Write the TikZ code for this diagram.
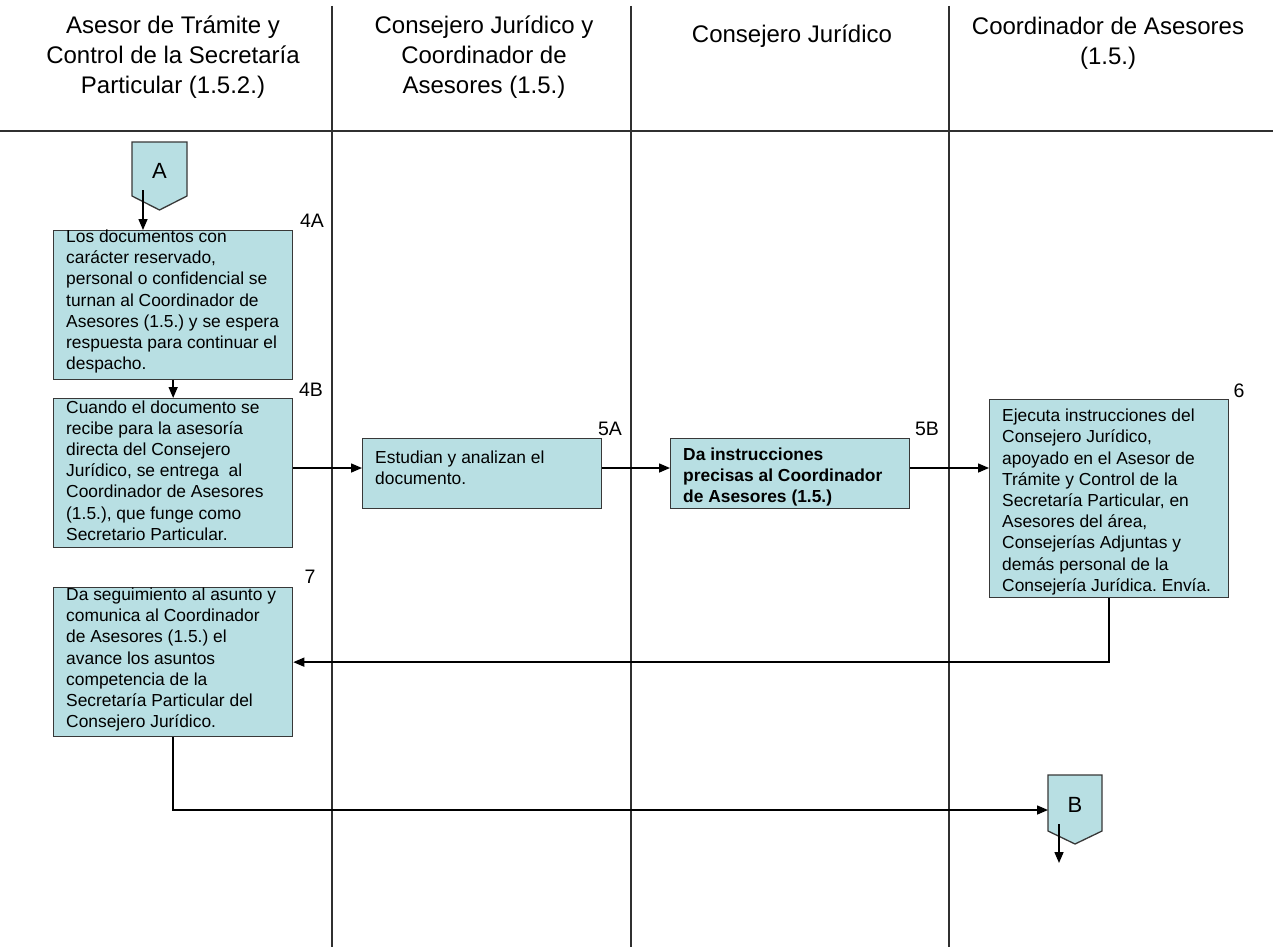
\documentclass[tikz,border=0pt]{standalone}
\usepackage{fontspec}
\setmainfont{Liberation Sans}
\usetikzlibrary{arrows.meta,calc}
\frenchspacing

\definecolor{boxfill}{HTML}{B8DFE3}
\definecolor{boxline}{HTML}{383838}
\definecolor{laneline}{HTML}{303030}

\begin{document}
\begin{tikzpicture}[x=1pt,y=-1pt,
  lane/.style={draw=laneline,line width=1.3pt},
  stepbox/.style={draw=boxline,fill=boxfill,line width=1.3pt,inner sep=0pt,anchor=north west,minimum width=239pt},
  body/.style={inner sep=0pt,anchor=west,align=left,font=\fontsize{17.4}{21.2}\selectfont\frenchspacing},
  head/.style={inner sep=0pt,align=center,font=\fontsize{24}{30}\selectfont\frenchspacing},
  tag/.style={inner sep=0pt,font=\fontsize{19.5}{22}\selectfont},
  letter/.style={inner sep=0pt,font=\fontsize{22}{24}\selectfont},
  offpage/.style={draw=boxline,fill=boxfill,line width=1.3pt},
  flow/.style={line width=1.5pt,-{Triangle[length=11pt,width=9pt]}}
]
% canvas
\fill[white] (0,0) rectangle (1273,950);
\useasboundingbox (0,0) rectangle (1273,950);

% swimlanes
\draw[lane] (0,131) -- (1273,131);
\draw[lane] (332,6) -- (332,947);
\draw[lane] (631,6) -- (631,947);
\draw[lane] (949,6) -- (949,947);

% lane headings
\node[head] (h1) at (173,57) {Asesor de Trámite y\\Control de la Secretaría\\Particular (1.5.2.)};
\node[head] (h2) at (484,57) {Consejero Jurídico y\\Coordinador de\\Asesores (1.5.)};
\node[head] (h3) at (792,36) {Consejero Jurídico};
\node[head] (h4) at (1108,43.5) {Coordinador de Asesores\\(1.5.)};

% off-page connector A
\coordinate (A) at (159.5,169);
\filldraw[offpage] ($(A)+(-27.5,-27)$) -- ++(55,0) -- ++(0,54) -- ($(A)+(0,41)$) -- ($(A)+(-27.5,27)$) -- cycle;
\node[letter] (Aname) at ($(A)+(0,2)$) {A};
\coordinate (aout) at (143,190);

% process boxes
\node[stepbox,minimum height=149pt] (b4a) at (53,230) {};
\node[stepbox,minimum height=149pt] (b4b) at (53,398) {};
\node[stepbox,minimum height=70pt]  (b5a) at (362,438) {};
\node[stepbox,minimum height=70pt]  (b5b) at (670,438) {};
\node[stepbox,minimum height=198pt] (b6)  at (989,399) {};
\node[stepbox,minimum height=149pt] (b7)  at (53,587) {};

% box texts
\node[body] (t4a) at (66,301.5) {Los documentos con\\carácter reservado,\\personal o confidencial se\\turnan al Coordinador de\\Asesores (1.5.) y se espera\\respuesta para continuar el\\despacho.};
\node[body] (t4b) at (66,470.5) {Cuando el documento se\\recibe para la asesoría\\directa del Consejero\\Jurídico, se entrega\ \ al\\Coordinador de Asesores\\(1.5.), que funge como\\Secretario Particular.};
\node[body] (t5a) at (375,467.5) {Estudian y analizan el\\documento.};
\node[body,font=\fontsize{17.4}{21.2}\selectfont\bfseries\frenchspacing] (t5b) at (683,477) {Da instrucciones\\precisas al Coordinador\\de Asesores (1.5.)};
\node[body] (t6) at (1002,502) {Ejecuta instrucciones del\\Consejero Jurídico,\\apoyado en el Asesor de\\Trámite y Control de la\\Secretaría Particular, en\\Asesores del área,\\Consejerías Adjuntas y\\demás personal de la\\Consejería Jurídica. Envía.};
\node[body] (t7) at (66,659.5) {Da seguimiento al asunto y\\comunica al Coordinador\\de Asesores (1.5.) el\\avance los asuntos\\competencia de la\\Secretaría Particular del\\Consejero Jurídico.};

% step numbers
\node[tag] (n4a) at (312,221) {4A};
\node[tag] (n4b) at (311,390) {4B};
\node[tag] (n5a) at (610,428.5) {5A};
\node[tag] (n5b) at (927,428.5) {5B};
\node[tag] (n6)  at (1239,390.5) {6};
\node[tag] (n7)  at (310,577) {7};

% off-page connector B
\coordinate (B) at (1075,803);
\filldraw[offpage] ($(B)+(-27,-28)$) -- ++(54,0) -- ++(0,56) -- ($(B)+(0,41)$) -- ($(B)+(-27,28)$) -- cycle;
\node[letter] (Bname) at ($(B)+(0,2)$) {B};
\coordinate (bin) at (1048,810);
\coordinate (bout) at (1059,824);

% flow
\coordinate (row) at (0,468);
\draw[flow] (aout) -- (aout |- b4a.north);
\draw[flow] (b4a) -- (b4b);
\draw[flow] (b4b.east |- row) -- (b5a.west |- row);
\draw[flow] (b5a.east |- row) -- (b5b.west |- row);
\draw[flow] (b5b.east |- row) -- (b6.west |- row);
\draw[flow] (b6.south) |- (b7.east);
\draw[flow] (b7.south) |- (bin);
\draw[flow] (bout) -- ++(0,39);
\end{tikzpicture}
\end{document}
